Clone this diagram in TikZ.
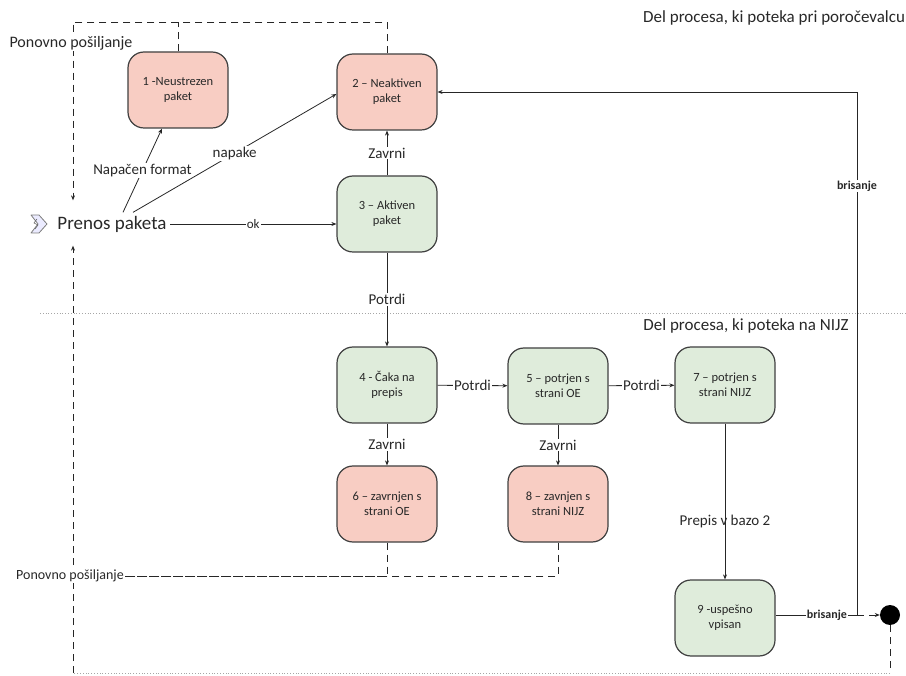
\documentclass[tikz,border=0pt]{standalone}
\usepackage{fontspec}
\setmainfont{Carlito}
\usetikzlibrary{arrows.meta}
\definecolor{badred}{RGB}{248,205,195}
\definecolor{okgreen}{RGB}{223,236,219}
\definecolor{txt}{RGB}{40,40,40}

\begin{document}
\begin{tikzpicture}[x=1pt,y=-1pt, every node/.style={text=txt},
 state/.style={draw=black!75,line width=1.2pt,rounded corners=16pt,minimum width=100pt,minimum height=76pt,align=center,font=\fontsize{12.5}{15}\selectfont},
 good/.style={state,fill=okgreen},
 bad/.style={state,fill=badred},
 lbl/.style={fill=white,inner sep=1pt,font=\fontsize{15}{17}\selectfont},
 blbl/.style={fill=white,inner sep=1pt,font=\fontsize{12}{14}\selectfont\bfseries},
 arr/.style={draw=black!85,line width=0.8pt,-{Stealth[length=5pt,width=4pt]}},
 dline/.style={draw=black!85,line width=0.8pt,dash pattern=on 7pt off 5pt},
 darr/.style={dline,-{Stealth[length=5pt,width=4pt]}},
 sep/.style={draw=black!35,line width=0.8pt,dotted}]
\useasboundingbox (0,0) rectangle (906,676);

\node[anchor=east,font=\fontsize{17}{19}\selectfont] (top) at (908.5,18) {Del procesa, ki poteka pri poročevalcu};
\node[anchor=east,font=\fontsize{17}{19}\selectfont] (nijz) at (852,326) {Del procesa, ki poteka na NIJZ};
\draw[sep] (40,313) -- (906,313);

\node[bad] (n1) at (178,90) {1 -Neustrezen\\paket};
\node[bad] (n2) at (387,92) {2 – Neaktiven\\paket};
\node[good] (n3) at (387,214) {3 – Aktiven\\paket};
\node[good] (n4) at (387,385) {4 - Čaka na\\prepis};
\node[good] (n5) at (558,386) {5 – potrjen s\\strani OE};
\node[good] (n7) at (725,385) {7 – potrjen s\\strani NIJZ};
\node[bad] (n6) at (387,504) {6 – zavrnjen s\\strani OE};
\node[bad] (n8) at (558,504) {8 – zavnjen s\\strani NIJZ};
\node[good] (n9) at (725,618) {9 -uspešno\\vpisan};
\node[circle,fill=black,minimum size=20pt,inner sep=0pt] (dot) at (890,615) {};

\node[font=\fontsize{19}{22}\selectfont] (pp) at (112,224) {Prenos paketa};
\draw[fill=blue!8,draw=black!50,line width=0.8pt,line join=round] (31,215) -- (39,215) -- (47,224) -- (39,233) -- (31,233) -- (38,224) -- cycle;
\draw[black!60,line width=0.6pt] (37,219) -- (34,223) -- (38,225) -- (35,229);

\draw[arr] (pp.east) -- node[lbl,font=\fontsize{13}{15}\selectfont]{ok} (pp.east -| n3.west);
\draw[arr] ([xshift=11pt]pp.north) -- node[lbl]{Napačen format} ([xshift=-16pt]n1.south);
\draw[arr] ([xshift=21pt]pp.north) -- node[lbl]{napake} ([yshift=-2pt]n2.west);
\draw[arr] (n3) -- node[lbl]{Zavrni} (n2);
\draw[arr] (n3) -- node[lbl]{Potrdi} (n4);
\draw[arr] (n4) -- node[lbl]{Potrdi} (n5);
\draw[arr] (n5) -- node[lbl]{Potrdi} (n7);
\draw[arr] (n4) -- node[lbl]{Zavrni} (n6);
\draw[arr] (n5) -- node[lbl]{Zavrni} (n8);
\draw[arr] (n7) -- node[lbl,fill=none,pos=0.63]{Prepis v bazo 2} (n9);

\coordinate (cr) at (857,615);
\draw[draw=black!85,line width=0.8pt] (n9.east |- cr) -- node[blbl,pos=0.63]{brisanje} (cr);
\draw[arr] (cr) |- node[blbl,pos=0.41]{brisanje} (n2.east);
\draw[darr] (cr) -- (dot);

\coordinate (tl) at (73,22);
\coordinate (bl) at (73,673);
\draw[dline] (dot) -- (dot |- bl);
\draw[sep] (dot |- bl) -- (bl);
\draw[darr,shorten >=10pt] (bl) -- (pp.south -| bl);
\draw[darr,shorten >=12pt] (n2.north) -- (n2.north |- tl) -- (tl) -- (pp.north -| tl);
\draw[dline] (n1.north) -- (n1.north |- tl);
\node[lbl,font=\fontsize{16}{18}\selectfont] (resend1) at (71,43) {Ponovno pošiljanje};
\node[lbl,font=\fontsize{14}{16}\selectfont] (resend2) at (70,576) {Ponovno pošiljanje};
\draw[dline] (n6.south) |- (resend2.east);
\draw[dline] (n8.south) |- (resend2.east);
\end{tikzpicture}
\end{document}
